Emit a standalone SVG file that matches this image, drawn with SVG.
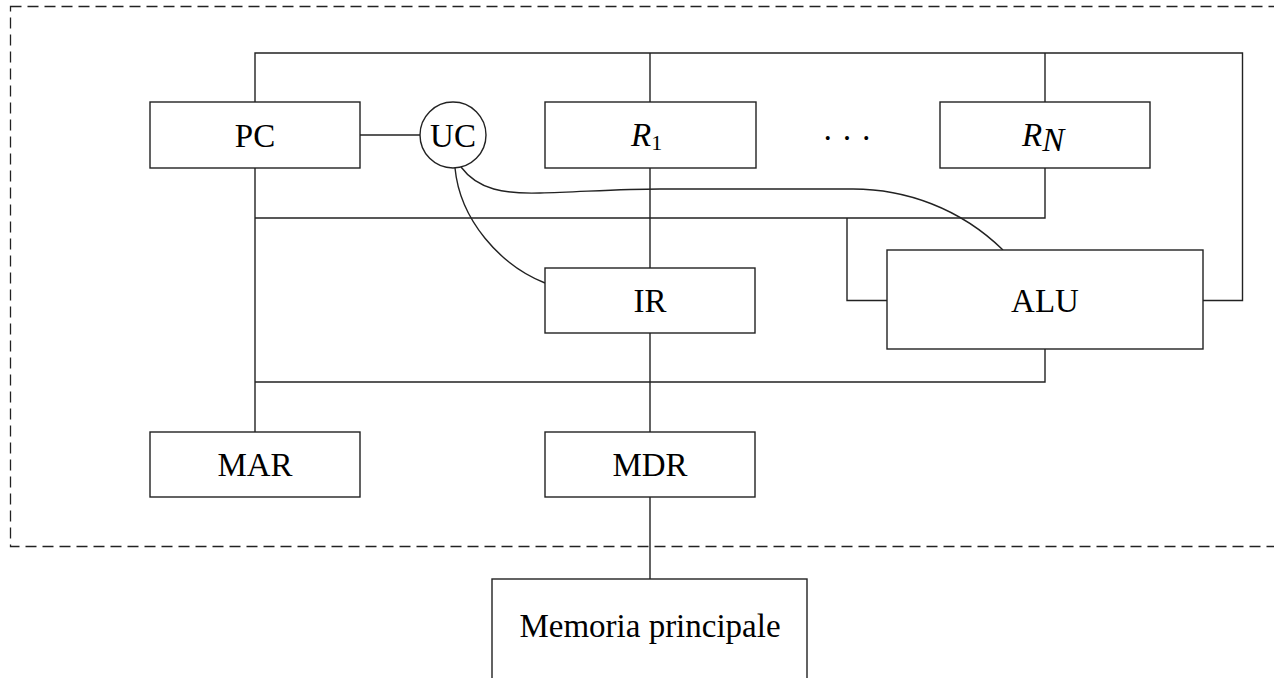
<svg xmlns="http://www.w3.org/2000/svg" width="1274" height="678" viewBox="0 0 1274 678">
<style>
.box{fill:#fff;stroke:#222;stroke-width:1.4}
.w{fill:none;stroke:#222;stroke-width:1.4}
.t{font-family:"Liberation Serif",serif;font-size:33px;fill:#000;text-anchor:middle}
.m{font-family:"Liberation Serif",serif;font-style:italic;font-size:33px;fill:#000}
.s{font-family:"Liberation Serif",serif;font-size:22px;fill:#000}
</style>
<rect width="1274" height="678" fill="#fff"/>
<rect id="cpu-boundary" x="10.5" y="6.5" width="1290" height="540" fill="none" stroke="#222" stroke-width="1.3" stroke-dasharray="11 6"/>
<g id="connectors">
<path class="w" d="M255,102 V53 H1242.5 V300.5 H1203"/>
<path class="w" d="M650,53 V102"/>
<path class="w" d="M1045,53 V102"/>
<path class="w" d="M360,135 H420"/>
<path class="w" d="M255,168 V432"/>
<path class="w" d="M255,218 H1045 V168"/>
<path class="w" d="M650,168 V268"/>
<path class="w" d="M847,218 V300.5 H887"/>
<path class="w" d="M255,382 H1045 V349"/>
<path class="w" d="M650,333 V432"/>
<path class="w" d="M650,497 V579"/>
<path class="w" d="M461,167 C478,190 505,194 540,193 C580,192 620,189 660,189 L853,189 C905,189 960,208 1003,250"/>
<path class="w" d="M455,168 C460,220 500,265 545,283"/>
</g>
<g id="PC"><rect class="box" x="150" y="102" width="210" height="66"/><text class="t" x="255" y="147">PC</text></g>
<g id="UC"><circle class="box" cx="453" cy="135" r="33"/><text class="t" x="453" y="147">UC</text></g>
<g id="R1"><rect class="box" x="545" y="102" width="211" height="66"/><text x="650" y="146"><tspan class="m" x="631">R</tspan><tspan class="s" dy="4">1</tspan></text></g>
<g id="dots"><text class="t" x="847" y="149" font-size="28">· · ·</text></g>
<g id="RN"><rect class="box" x="940" y="102" width="210" height="66"/><text x="1045" y="146"><tspan class="m" x="1022">R</tspan><tspan class="m" font-size="22" dy="5">N</tspan></text></g>
<g id="IR"><rect class="box" x="545" y="268" width="210" height="65"/><text class="t" x="650" y="312">IR</text></g>
<g id="ALU"><rect class="box" x="887" y="250" width="316" height="99"/><text class="t" x="1045" y="312">ALU</text></g>
<g id="MAR"><rect class="box" x="150" y="432" width="210" height="65"/><text class="t" x="255" y="476">MAR</text></g>
<g id="MDR"><rect class="box" x="545" y="432" width="210" height="65"/><text class="t" x="650" y="476">MDR</text></g>
<g id="Memoria"><rect class="box" x="492" y="579" width="315" height="120"/><text class="t" x="650" y="637">Memoria principale</text></g>
</svg>
